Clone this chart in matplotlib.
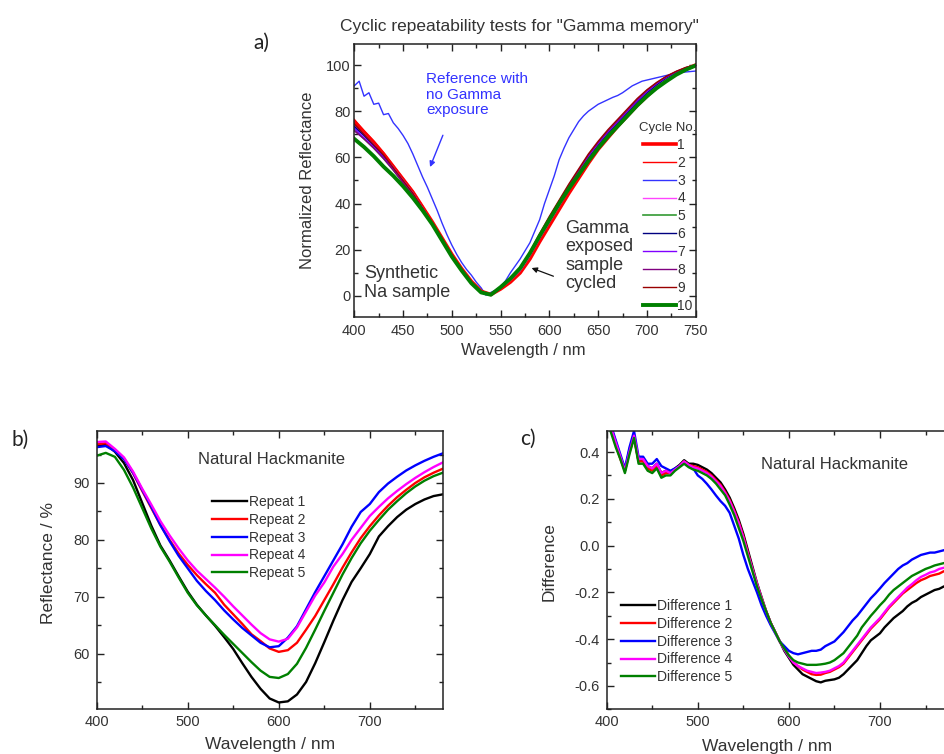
import numpy as np
import matplotlib
matplotlib.use('Agg')
import matplotlib.pyplot as plt
from matplotlib.ticker import MultipleLocator

plt.rcParams['font.family'] = ['Liberation Sans', 'DejaVu Sans']
plt.rcParams['axes.unicode_minus'] = False
TXT = '#333333'

# ---------------- panel a data (normalized reflectance) ----------------
wl_a = np.arange(400, 751, 10)
wl_ref = np.arange(400, 751, 5)

ref_a = [91, 93, 86.5, 88, 83, 83.5, 78.5, 79, 75, 72.5,
         69.5, 66, 61.5, 56.5, 51.5, 47, 42, 37, 31.5, 26.5,
         22, 18, 14.5, 11.5, 9, 6, 3.5, 0.3, 1.5, 2.5,
         4, 6.5, 10, 13, 16, 19.5, 23, 28, 33, 40,
         46, 52, 59, 64, 68.5, 72, 75.5, 78, 80, 81.5,
         83, 84, 85, 86, 86.8, 88, 89.5, 91, 92, 93,
         93.5, 94, 94.5, 95, 95.5, 96, 96.5, 96.8, 97, 97.2,
         97.4]

cycle_1 = [75.5, 71, 66.5, 61.5, 56, 50.5, 45, 38.5, 32, 25,
           18, 11.8, 6.3, 2, 0.6, 3, 6, 10, 16, 23.5,
           30.5, 37.5, 44.5, 51, 57.5, 63.5, 68.5, 73.5, 78, 82.5,
           86.5, 90.5, 93.5, 96.3, 98.3, 100]
cycle_2 = [76.5, 71.5, 67, 62, 56.5, 51, 45.5, 39, 32, 24.8,
           17.8, 11.5, 6, 1.8, 0.4, 3.2, 6.3, 10.5, 16.5, 24,
           31, 38, 45, 51.5, 58, 64, 69, 74, 78.5, 83,
           87, 91, 94, 96.5, 98.5, 100]
cycle_3 = [73, 69.5, 65.5, 60.5, 55.5, 50, 44.5, 38, 31.5, 24.5,
           17.5, 11.5, 6, 1.8, 0.5, 3.5, 7, 11, 17.5, 25,
           32, 39, 46, 52.5, 59, 64.5, 69.5, 74.5, 79, 83.5,
           87.5, 91, 94, 96.5, 98.5, 99.5]
cycle_4 = [74, 70, 65.5, 60.5, 55.5, 50, 44.5, 38, 31.5, 24.5,
           17.5, 11.5, 6, 1.8, 0.5, 3.4, 6.8, 11, 17.5, 25,
           32, 39, 46, 52.5, 59, 64.5, 69.5, 74, 78.5, 83,
           87, 90.8, 93.8, 96.3, 98.3, 100]
cycle_5 = [72, 68, 64, 59.5, 54.5, 49, 43.5, 37.5, 31, 24.2,
           17.2, 11.2, 5.8, 1.6, 0.4, 3.6, 7.2, 11.5, 18, 25.5,
           32.5, 39.5, 46.5, 53, 59, 64.5, 69.5, 74, 78.5, 83,
           87, 90.5, 93.5, 96, 98.2, 100]
cycle_6 = [73.5, 69.5, 65, 60.5, 55, 49.5, 44, 37.8, 31.3, 24.4,
           17.4, 11.4, 5.9, 1.7, 0.5, 3.6, 7.3, 11.5, 18, 25.5,
           33, 40, 47, 53.5, 60, 65.5, 70.5, 75, 79.5, 84,
           88, 91.5, 94.5, 96.8, 98.6, 100]
cycle_7 = [72.5, 68.5, 64.5, 60, 54.8, 49.3, 43.8, 37.6, 31.2, 24.3,
           17.3, 11.3, 5.9, 1.7, 0.5, 3.7, 7.4, 11.8, 18.3, 26,
           33.3, 40.5, 47.5, 54, 60.5, 66, 71, 75.5, 80, 84.5,
           88.5, 92, 94.8, 97, 98.8, 100]
cycle_8 = [71.5, 68, 64, 59.5, 54.5, 49, 43.5, 37.5, 31, 24.2,
           17.2, 11.2, 5.8, 1.6, 0.5, 3.8, 7.6, 12, 18.7, 26.5,
           34, 41, 48, 54.5, 61, 66.5, 71.5, 76, 80.5, 85,
           89, 92.3, 95, 97.2, 98.9, 100]
cycle_9 = [74.5, 70, 65.5, 61, 55.5, 50, 44.5, 38, 31.5, 24.6,
           17.6, 11.5, 6, 1.8, 0.6, 3.9, 7.8, 12.3, 19, 27,
           34.5, 41.5, 48.5, 55, 61.5, 67, 72, 76.5, 81, 85.5,
           89.3, 92.5, 95.2, 97.3, 99, 100]
cycle_10 = [68, 64.5, 60.5, 56, 52, 47.5, 42.5, 37, 31, 24,
            17, 11, 5.5, 1.5, 0.5, 3.8, 7.5, 12, 18.5, 26,
            33, 40, 46.5, 52.5, 58.5, 64, 69, 73.5, 78, 82.5,
            86.5, 90, 93, 95.8, 98, 99.8]

cycles = [cycle_1, cycle_2, cycle_3, cycle_4, cycle_5,
          cycle_6, cycle_7, cycle_8, cycle_9, cycle_10]
cycle_labels = ['1', '2', '3', '4', '5', '6', '7', '8', '9', '10']
cycle_colors = ['#ff0000', '#ff0000', '#3333ff', '#ff44ff', '#339933',
                '#000080', '#8000ff', '#800080', '#990000', '#008000']
cycle_widths = [2.6, 1.0, 1.0, 1.0, 1.2, 1.0, 1.0, 1.0, 1.0, 2.8]

# ---------------- panel b data (reflectance %) ----------------
wl_b = np.arange(400, 781, 10)
repeat_1 = [96.4, 96.8, 95.5, 93.5, 90.5, 86.5, 82.5, 79, 76.4, 73.6,
            70.9, 68.6, 66.7, 64.9, 62.9, 60.8, 58.3, 55.9, 53.8, 52.1,
            51.4, 51.6, 52.8, 55, 58.3, 62, 65.8, 69.4, 72.6, 75,
            77.5, 80.6, 82.4, 84, 85.3, 86.3, 87.1, 87.7, 88]
repeat_2 = [96.8, 97, 95.8, 94.3, 91.7, 88.6, 85.6, 82.6, 80, 77.6,
            75.6, 73.8, 72.2, 70.7, 68.6, 66.9, 65.2, 63.4, 62.2, 60.9,
            60.3, 60.6, 61.9, 64.2, 66.6, 69.4, 72.2, 75.1, 77.8, 80.3,
            82.4, 84.3, 86, 87.5, 88.8, 90, 91, 91.8, 92.5]
repeat_3 = [96.3, 96.5, 95.6, 94.2, 91.8, 88.8, 85.8, 82.6, 79.8, 77.2,
            75, 72.8, 71, 69.4, 67.6, 66, 64.5, 63.2, 61.9, 61.1,
            61.3, 62.8, 64.8, 67.8, 70.8, 73.6, 76.4, 79.2, 82.3, 84.9,
            86.3, 88.4, 89.9, 91.1, 92.2, 93.1, 93.9, 94.6, 95.2]
repeat_4 = [97.2, 97.3, 96, 94.5, 92, 89, 86.2, 83.3, 80.8, 78.5,
            76.4, 74.6, 73.1, 71.6, 70, 68.3, 66.7, 65.1, 63.6, 62.5,
            62.1, 62.6, 64.6, 67.4, 70.2, 72.5, 75.3, 77.5, 80, 82.1,
            84.2, 85.8, 87.3, 88.6, 89.8, 90.9, 91.9, 92.8, 93.6]
repeat_5 = [94.8, 95.3, 94.6, 92.3, 89.2, 85.6, 82, 78.8, 76.2, 73.4,
            70.7, 68.5, 66.7, 65, 63.3, 61.7, 60.1, 58.5, 57, 55.9,
            55.7, 56.4, 58.2, 61, 64.2, 67.5, 70.7, 73.9, 76.8, 79.4,
            81.6, 83.5, 85.3, 86.8, 88.2, 89.4, 90.4, 91.2, 91.8]
repeats = [repeat_1, repeat_2, repeat_3, repeat_4, repeat_5]

# ---------------- panel c data (difference) ----------------
wl_c = np.arange(400, 781, 5)
diff_1 = [0.56, 0.50, 0.44, 0.38, 0.32, 0.41, 0.47, 0.36, 0.37, 0.34,
          0.33, 0.35, 0.31, 0.32, 0.315, 0.33, 0.345, 0.365, 0.35, 0.35,
          0.345, 0.335, 0.325, 0.31, 0.29, 0.27, 0.24, 0.205, 0.16, 0.11,
          0.05, -0.02, -0.09, -0.16, -0.22, -0.28, -0.33, -0.37, -0.41, -0.45,
          -0.48, -0.51, -0.53, -0.55, -0.56, -0.57, -0.58, -0.585, -0.578, -0.575,
          -0.572, -0.565, -0.55, -0.53, -0.51, -0.49, -0.46, -0.43, -0.405, -0.39,
          -0.375, -0.35, -0.33, -0.31, -0.295, -0.28, -0.26, -0.245, -0.235, -0.22,
          -0.21, -0.2, -0.19, -0.185, -0.175, -0.17, -0.165]
diff_2 = [0.55, 0.49, 0.43, 0.37, 0.32, 0.40, 0.46, 0.36, 0.36, 0.33,
          0.32, 0.34, 0.30, 0.31, 0.31, 0.325, 0.34, 0.36, 0.345, 0.34,
          0.335, 0.325, 0.315, 0.30, 0.28, 0.26, 0.23, 0.195, 0.15, 0.10,
          0.04, -0.03, -0.10, -0.165, -0.225, -0.28, -0.33, -0.37, -0.41, -0.44,
          -0.47, -0.50, -0.515, -0.53, -0.54, -0.55, -0.553, -0.552, -0.545, -0.54,
          -0.53, -0.52, -0.505, -0.48, -0.455, -0.43, -0.405, -0.38, -0.355, -0.335,
          -0.315, -0.29, -0.265, -0.245, -0.225, -0.205, -0.19, -0.175, -0.16, -0.148,
          -0.14, -0.13, -0.125, -0.12, -0.11, -0.105, -0.1]
diff_3 = [0.57, 0.51, 0.45, 0.39, 0.33, 0.42, 0.49, 0.38, 0.38, 0.35,
          0.35, 0.37, 0.34, 0.33, 0.32, 0.33, 0.34, 0.355, 0.34, 0.33,
          0.30, 0.285, 0.264, 0.24, 0.214, 0.19, 0.17, 0.14, 0.085, 0.03,
          -0.04, -0.10, -0.15, -0.20, -0.255, -0.30, -0.34, -0.375, -0.41, -0.43,
          -0.45, -0.46, -0.465, -0.46, -0.455, -0.45, -0.45, -0.445, -0.43, -0.42,
          -0.41, -0.39, -0.37, -0.345, -0.32, -0.30, -0.275, -0.25, -0.225, -0.205,
          -0.183, -0.16, -0.14, -0.12, -0.10, -0.085, -0.075, -0.06, -0.05, -0.04,
          -0.035, -0.03, -0.03, -0.025, -0.02, -0.015, -0.01]
diff_4 = [0.55, 0.50, 0.44, 0.38, 0.32, 0.40, 0.47, 0.37, 0.37, 0.34,
          0.33, 0.35, 0.31, 0.32, 0.31, 0.325, 0.34, 0.36, 0.345, 0.335,
          0.33, 0.32, 0.31, 0.295, 0.275, 0.255, 0.225, 0.19, 0.145, 0.095,
          0.035, -0.035, -0.10, -0.165, -0.225, -0.28, -0.33, -0.37, -0.41, -0.445,
          -0.475, -0.50, -0.515, -0.525, -0.535, -0.54, -0.545, -0.543, -0.54, -0.535,
          -0.525, -0.515, -0.50, -0.475, -0.45, -0.425, -0.40, -0.375, -0.35, -0.33,
          -0.31, -0.285, -0.26, -0.24, -0.22, -0.20, -0.18, -0.165, -0.148, -0.134,
          -0.125, -0.115, -0.11, -0.10, -0.095, -0.09, -0.085]
diff_5 = [0.54, 0.48, 0.42, 0.37, 0.31, 0.39, 0.46, 0.35, 0.35, 0.32,
          0.31, 0.33, 0.29, 0.30, 0.30, 0.32, 0.335, 0.35, 0.335, 0.325,
          0.32, 0.31, 0.30, 0.285, 0.265, 0.24, 0.215, 0.175, 0.13, 0.075,
          0.02, -0.045, -0.11, -0.175, -0.23, -0.28, -0.33, -0.37, -0.41, -0.44,
          -0.47, -0.49, -0.50, -0.505, -0.51, -0.51, -0.51, -0.508, -0.505, -0.50,
          -0.49, -0.475, -0.46, -0.435, -0.41, -0.385, -0.35, -0.325, -0.30, -0.278,
          -0.255, -0.235, -0.21, -0.19, -0.175, -0.16, -0.145, -0.13, -0.12, -0.11,
          -0.10, -0.093, -0.085, -0.08, -0.075, -0.07, -0.065]
diffs = [diff_1, diff_2, diff_3, diff_4, diff_5]

five_colors = ['#000000', '#ff0000', '#0000ff', '#ff00ff', '#008000']


def style_axes(ax, xmaj, xmin, ymaj, ymin, xpad, ypad):
    ax.xaxis.set_major_locator(MultipleLocator(xmaj))
    ax.xaxis.set_minor_locator(MultipleLocator(xmin))
    ax.yaxis.set_major_locator(MultipleLocator(ymaj))
    ax.yaxis.set_minor_locator(MultipleLocator(ymin))
    ax.tick_params(which='both', direction='in', top=True, right=True,
                   color='#222222', labelcolor=TXT, labelsize=10.5)
    ax.tick_params(which='major', length=5, width=1)
    ax.tick_params(which='minor', length=3, width=1)
    ax.tick_params(axis='x', pad=xpad)
    ax.tick_params(axis='y', pad=ypad)
    for s in ax.spines.values():
        s.set_linewidth(1.1)
        s.set_color('#222222')


fig = plt.figure(figsize=(9.45, 7.54), dpi=100)

# ---------- a) ----------
ax_a = fig.add_axes([0.3749, 0.58, 0.3613, 0.3613])
ax_a.plot(wl_ref, ref_a, color='#3333ff', lw=1.0)
for vals, lab, col, lw in zip(cycles, cycle_labels, cycle_colors, cycle_widths):
    ax_a.plot(wl_a, vals, color=col, lw=lw, label=lab)
ax_a.set_xlim(400, 750)
ax_a.set_ylim(-9, 109)
style_axes(ax_a, 50, 25, 20, 10, 5, 2.5)
ax_a.set_xlabel('Wavelength / nm', fontsize=12, color=TXT)
ax_a.set_ylabel('Normalized Reflectance', fontsize=12, color=TXT)
ax_a.xaxis.set_label_coords(0.495, -0.098)
ax_a.yaxis.set_label_coords(-0.115, 0.502)
leg_a = ax_a.legend(loc='upper left', bbox_to_anchor=(0.834, 0.715), frameon=False,
                    title='Cycle No.', fontsize=10, title_fontsize=9.5,
                    handlelength=2.4, handletextpad=0.1, labelspacing=0.28,
                    borderpad=0, borderaxespad=0)
for t in leg_a.get_texts():
    t.set_color(TXT)
leg_a.get_title().set_color(TXT)

ax_a.text(473.5, 97, 'Reference with\nno Gamma\nexposure', color='#3333ff',
          fontsize=11, va='top', ha='left', linespacing=1.15)
ax_a.annotate('', xy=(476.6, 54.7), xytext=(491.9, 70.7),
              arrowprops=dict(arrowstyle='-|>', color='#3333ff', lw=1,
                              mutation_scale=8))
ax_a.text(410.3, 13.5, 'Synthetic\nNa sample', color=TXT, fontsize=13,
          va='top', ha='left', linespacing=1.15)
ax_a.text(616.3, 33, 'Gamma\nexposed\nsample\ncycled', color=TXT, fontsize=13,
          va='top', ha='left', linespacing=1.12)
ax_a.annotate('', xy=(579.1, 12.5), xytext=(606.8, 8.1),
              arrowprops=dict(arrowstyle='-|>', color='#111111', lw=0.9,
                              mutation_scale=8))
fig.text(519 / 945, 1 - 27 / 754, 'Cyclic repeatability tests for "Gamma memory"',
         ha='center', va='center', fontsize=12.5, color=TXT)

# ---------- b) ----------
ax_b = fig.add_axes([0.1023, 0.0593, 0.3661, 0.3695])
for i, vals in enumerate(repeats):
    ax_b.plot(wl_b, vals, color=five_colors[i], lw=1.7, label='Repeat %d' % (i + 1))
ax_b.set_xlim(400, 780)
ax_b.set_ylim(50.2, 99.2)
style_axes(ax_b, 100, 50, 10, 5, 4, 5)
ax_b.set_xlabel('Wavelength / nm', fontsize=12.5, color=TXT)
ax_b.set_ylabel('Reflectance / %', fontsize=12.5, color=TXT)
ax_b.xaxis.set_label_coords(0.5, -0.1)
ax_b.yaxis.set_label_coords(-0.118, 0.525)
ax_b.text(0.506, 0.895, 'Natural Hackmanite', transform=ax_b.transAxes,
          ha='center', va='center', fontsize=12, color=TXT)
leg_b = ax_b.legend(loc='upper left', bbox_to_anchor=(0.333, 0.77), frameon=False,
                    fontsize=10, handlelength=2.5, handletextpad=0.15,
                    labelspacing=0.28, borderpad=0, borderaxespad=0)
for t in leg_b.get_texts():
    t.set_color(TXT)

# ---------- c) ----------
ax_c = fig.add_axes([0.642, 0.0593, 0.3663, 0.3691])
for i, vals in enumerate(diffs):
    ax_c.plot(wl_c, vals, color=five_colors[i], lw=1.7, label='Difference %d' % (i + 1))
ax_c.set_xlim(400, 780)
ax_c.set_ylim(-0.7, 0.49)
style_axes(ax_c, 100, 50, 0.2, 0.1, 4, 5)
ax_c.set_xlabel('Wavelength / nm', fontsize=12.5, color=TXT)
ax_c.set_ylabel('Difference', fontsize=12.5, color=TXT)
ax_c.xaxis.set_label_coords(0.462, -0.105)
ax_c.yaxis.set_label_coords(-0.1436, 0.53)
ax_c.text(0.659, 0.878, 'Natural Hackmanite', transform=ax_c.transAxes,
          ha='center', va='center', fontsize=12, color=TXT)
leg_c = ax_c.legend(loc='upper left', bbox_to_anchor=(0.04, 0.397), frameon=False,
                    fontsize=10, handlelength=2.5, handletextpad=0.15,
                    labelspacing=0.28, borderpad=0, borderaxespad=0)
for t in leg_c.get_texts():
    t.set_color(TXT)

# panel letters
fig.text(253 / 945, 1 - 43 / 754, 'a)', fontsize=15, family='Lato', color='#222222', va='center')
fig.text(12 / 945, 1 - 440 / 754, 'b)', fontsize=15, family='Lato', color='#222222', va='center')
fig.text(520 / 945, 1 - 439 / 754, 'c)', fontsize=15, family='Lato', color='#222222', va='center')

fig.savefig('out.png', dpi=100)
